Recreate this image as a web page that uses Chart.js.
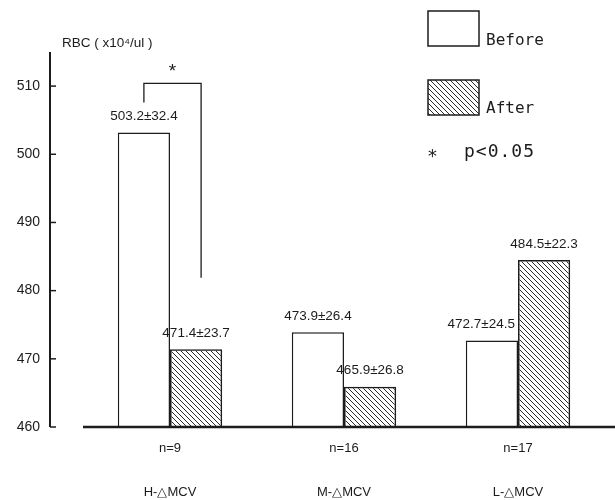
<!DOCTYPE html>
<html>
<head>
<meta charset="utf-8">
<script src="https://cdn.jsdelivr.net/npm/chart.js@4"></script>
<style>
  html, body { margin: 0; padding: 0; background: #fff; }
</style>
</head>
<body>
<canvas id="rbcChart" width="615" height="500"></canvas>
<script>
// data
const groups = ['H-△MCV', 'M-△MCV', 'L-△MCV'];
const nCounts = [9, 16, 17];
const beforeMean = [503.2, 473.9, 472.7];
const beforeSd = [32.4, 26.4, 24.5];
const afterMean = [471.4, 465.9, 484.5];
const afterSd = [23.7, 26.8, 22.3];
const yTicks = [460, 470, 480, 490, 500, 510];

const ink = '#1c1c1c';
const sans = "'Liberation Sans', Arial, sans-serif";
const mono = "'DejaVu Sans Mono', 'Liberation Mono', monospace";

const canvas = document.getElementById('rbcChart');
const ctx = canvas.getContext('2d');

// diagonal hatch for the "After" bars
function makeHatch() {
    const tile = document.createElement('canvas');
    tile.width = 5;
    tile.height = 5;
    const g = tile.getContext('2d');
    g.strokeStyle = '#2a2a2a';
    g.lineWidth = 1;
    for (const k of [-5, 0, 5]) {
        g.beginPath();
        g.moveTo(k, 0);
        g.lineTo(k + 5, 5);
        g.stroke();
    }
    return ctx.createPattern(tile, 'repeat');
}
const hatch = makeHatch();

function fmt(m, s) {
    return m.toFixed(1) + '±' + s.toFixed(1);
}

// axis line with a gap, baseline, value labels, bracket and legend
const paperPlugin = {
    id: 'paper',
    afterDatasetsDraw(chart) {
        const c = chart.ctx;
        const area = chart.chartArea;
        const y = chart.scales.y;
        c.save();
        c.strokeStyle = ink;

        // y axis sits left of the plot area
        const ax = area.left - 33;
        c.lineWidth = 2;
        c.beginPath();
        c.moveTo(ax, area.top);
        c.lineTo(ax, area.bottom);
        c.stroke();
        c.lineWidth = 1.5;
        yTicks.forEach(v => {
            const py = y.getPixelForValue(v);
            c.beginPath();
            c.moveTo(ax, py);
            c.lineTo(ax + 6, py);
            c.stroke();
        });

        // baseline
        c.lineWidth = 2.5;
        c.beginPath();
        c.moveTo(area.left, area.bottom);
        c.lineTo(chart.width, area.bottom);
        c.stroke();

        // mean ± sd above each bar
        c.fillStyle = ink;
        c.font = '13.5px ' + sans;
        c.textBaseline = 'middle';
        const sds = [beforeSd, afterSd];
        const means = [beforeMean, afterMean];
        [0, 1].forEach(d => {
            chart.getDatasetMeta(d).data.forEach((bar, i) => {
                let x = bar.x;
                c.textAlign = 'center';
                // keep the label clear of a taller neighbour
                if (d === 0 && afterMean[i] > beforeMean[i]) {
                    c.textAlign = 'right';
                    x = bar.x + bar.width / 2 - 3;
                }
                c.fillText(fmt(means[d][i], sds[d][i]), x, bar.y - 16);
            });
        });

        // significance bracket on the first group
        const bx1 = chart.getDatasetMeta(0).data[0].x;
        const bx2 = chart.getDatasetMeta(1).data[0].x + 5;
        const top = y.getPixelForValue(510.4);
        c.lineWidth = 1.3;
        c.beginPath();
        c.moveTo(bx1, y.getPixelForValue(507.6));
        c.lineTo(bx1, top);
        c.lineTo(bx2, top);
        c.lineTo(bx2, y.getPixelForValue(481.9));
        c.stroke();
        c.textAlign = 'center';
        c.font = '19px ' + sans;
        c.fillText('*', (bx1 + bx2) / 2, top - 12);

        // y unit
        c.textAlign = 'left';
        c.font = '13.5px ' + sans;
        c.fillText('RBC ( x10⁴/ul )', 62, 43);
        c.restore();
    },
    afterDraw(chart) {
        const c = chart.ctx;
        c.save();
        c.strokeStyle = ink;
        c.fillStyle = '#fff';
        c.lineWidth = 1.5;
        c.fillRect(428, 11, 51, 35);
        c.strokeRect(428, 11, 51, 35);
        c.fillStyle = hatch;
        c.fillRect(428, 80, 51, 35);
        c.strokeRect(428, 80, 51, 35);

        c.fillStyle = ink;
        c.font = '16px ' + mono;
        c.textAlign = 'left';
        c.textBaseline = 'middle';
        c.fillText('Before', 486, 41);
        c.fillText('After', 486, 109);
        c.font = '18px ' + mono;
        c.fillText('*', 427, 157);
        c.letterSpacing = '1px';
        c.fillText('p<0.05', 464, 152);
        c.restore();
    }
};

new Chart(ctx, {
    type: 'bar',
    data: {
        labels: groups,
        datasets: [{
            label: 'Before',
            data: beforeMean,
            backgroundColor: '#fff',
            borderColor: ink,
            borderWidth: 1.5
        }, {
            label: 'After',
            data: afterMean,
            backgroundColor: hatch,
            borderColor: ink,
            borderWidth: 1.5
        }]
    },
    options: {
        responsive: false,
        animation: false,
        layout: { padding: { top: 52, right: 10, left: 0, bottom: 0 } },
        categoryPercentage: 0.6,
        barPercentage: 1.0,
        plugins: {
            legend: { display: false },
            tooltip: { enabled: false }
        },
        scales: {
            x: {
                grid: { display: false, drawTicks: false },
                border: { display: false },
                afterFit: s => { s.height = 73; },
                ticks: {
                    color: ink,
                    padding: -1,
                    font: { family: sans, size: 13, lineHeight: '44px' },
                    callback: (v, i) => ['n=' + nCounts[i], groups[i]]
                }
            },
            y: {
                min: 460,
                max: 515,
                grid: { display: false, drawTicks: false },
                border: { display: false },
                afterFit: s => { s.width = 83; },
                afterBuildTicks: s => { s.ticks = yTicks.map(v => ({ value: v })); },
                ticks: {
                    color: ink,
                    padding: 43,
                    font: { family: sans, size: 14 }
                }
            }
        }
    },
    plugins: [paperPlugin]
});
</script>
</body>
</html>
